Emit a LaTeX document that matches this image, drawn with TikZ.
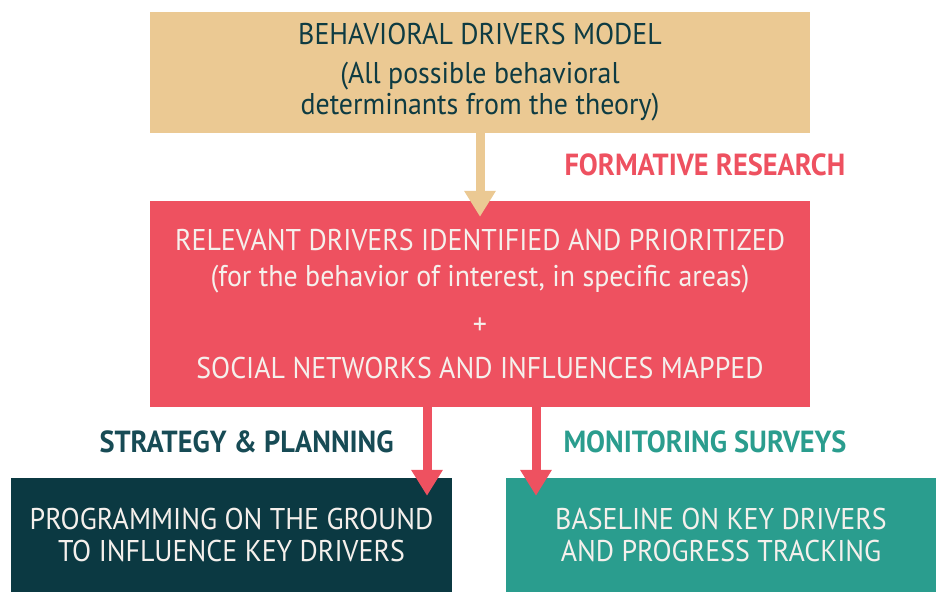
\documentclass[tikz,border=0pt]{standalone}
\usepackage{fontspec}
\setmainfont{PT Sans}[FakeStretch=0.93]
\usetikzlibrary{arrows.meta}

\definecolor{tan}{HTML}{EBC993}
\definecolor{coral}{HTML}{EE5160}
\definecolor{darkteal}{HTML}{0B3942}
\definecolor{teal}{HTML}{2A9D8E}
\definecolor{inkdark}{HTML}{0E3B42}
\definecolor{inklight}{HTML}{F5F0EC}
\definecolor{labteal}{HTML}{174B55}

\tikzset{
  box/.style={rectangle, inner sep=0pt, align=center},
  tag/.style={font=\fontsize{30.5}{30}\selectfont\bfseries, anchor=west},
  fat/.style={line width=9pt, -{Triangle[width=30pt,length=26pt]}}
}

\begin{document}
\begin{tikzpicture}[x=1pt,y=-1pt]
            \useasboundingbox (0,0) rectangle (936,594);

            \node[box, fill=tan, text=inkdark, font=\fontsize{30}{31}\selectfont, minimum width=660pt, minimum height=121pt] (model) at (480,72.5)
              {BEHAVIORAL DRIVERS MODEL\\[8pt] (All possible behavioral\\ determinants from the theory)};
            \node[box, fill=coral, text=inklight, font=\fontsize{30}{36}\selectfont, minimum width=660pt, minimum height=206pt] (drivers) at (480,304)
              {RELEVANT DRIVERS IDENTIFIED AND PRIORITIZED\\ (for the behavior of interest, in specific areas)\\[12pt] +\\[8pt] SOCIAL NETWORKS AND INFLUENCES MAPPED};
            \node[box, fill=darkteal, text=inklight, font=\fontsize{30}{32}\selectfont, minimum width=441pt, minimum height=114pt] (ground) at (231.5,535)
              {PROGRAMMING ON THE GROUND\\ TO INFLUENCE KEY DRIVERS};
            \node[box, fill=teal, text=inklight, font=\fontsize{30}{32}\selectfont, minimum width=430pt, minimum height=114pt] (baseline) at (721,535)
              {BASELINE ON KEY DRIVERS\\ AND PROGRESS TRACKING};

            \node[tag, text=coral] (formative) at (561,165) {FORMATIVE RESEARCH};
            \node[tag, text=labteal] (strategy) at (96,442) {STRATEGY \& PLANNING};
            \node[tag, text=teal] (monitoring) at (560,442) {MONITORING SURVEYS};

            \draw[fat, tan] (model.south) -- ([yshift=-16pt]drivers.north);
            \draw[fat, coral] ([xshift=-53pt]drivers.south) -- ([xshift=195.5pt,yshift=-18pt]ground.north);
            \draw[fat, coral] ([xshift=56pt]drivers.south) -- ([xshift=-185pt,yshift=-18pt]baseline.north);

        \end{tikzpicture}
\end{document}
